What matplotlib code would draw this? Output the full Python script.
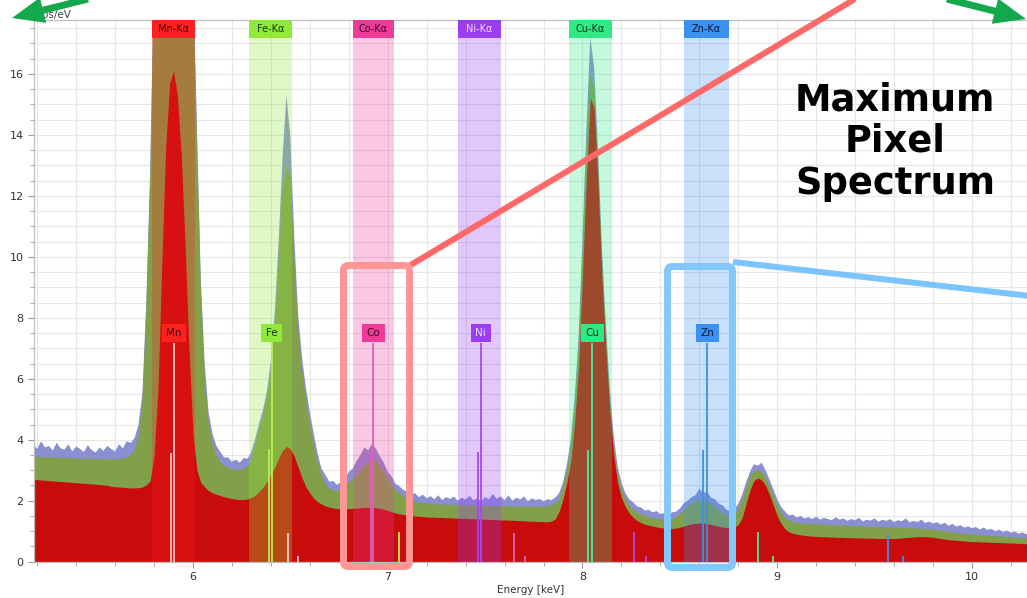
import numpy as np
import matplotlib
matplotlib.use('Agg')
import matplotlib.pyplot as plt
from matplotlib.patches import Rectangle, FancyBboxPatch, Polygon
from matplotlib.lines import Line2D
import matplotlib.transforms as mtransforms

# ---------------- data ----------------
# energy channels (keV), 0.02 keV step
energy = np.round(5.18 + 0.02 * np.arange(257), 2)

# maximum-pixel spectrum (noisy outline, cps/eV)
spec_max = [
    3.85, 3.70, 3.95, 3.75, 3.80, 3.65, 3.90, 3.72, 3.68, 3.85,
    3.62, 3.78, 3.70, 3.60, 3.82, 3.66, 3.58, 3.75, 3.64, 3.80,
    3.70, 3.62, 3.85, 3.72, 3.95, 3.90, 4.05, 4.50, 5.50, 8.50,
    12.8, 19.5, 22.0, 24.0, 25.0, 25.0, 25.0, 25.0, 24.0, 23.0,
    21.0, 19.5, 14.3, 9.30, 6.50, 4.90, 4.20, 3.80, 3.60, 3.42,
    3.42, 3.28, 3.35, 3.25, 3.40, 3.38, 3.62, 4.05, 4.55, 5.00,
    5.60, 6.60, 8.20, 10.5, 13.3, 15.3, 13.9, 10.7, 8.10, 6.70,
    5.70, 4.90, 4.20, 3.55, 3.05, 2.85, 2.62, 2.65, 2.52, 2.62,
    2.70, 2.95, 3.05, 3.30, 3.50, 3.75, 3.65, 3.87, 3.70, 3.45,
    3.25, 2.95, 2.80, 2.55, 2.48, 2.35, 2.30, 2.18, 2.25, 2.12,
    2.20, 2.08, 2.15, 2.05, 2.18, 2.02, 2.12, 2.06, 2.14, 2.00,
    2.10, 2.04, 2.16, 2.02, 2.08, 1.98, 2.12, 2.05, 2.22, 2.06,
    2.15, 2.02, 2.18, 2.00, 2.10, 2.04, 2.14, 1.98, 2.08, 2.02,
    2.06, 1.98, 2.05, 2.02, 2.10, 2.25, 2.60, 3.20, 4.00, 5.40,
    7.40, 10.6, 14.2, 17.2, 16.2, 13.5, 10.3, 7.80, 5.70, 4.15,
    3.15, 2.60, 2.25, 2.05, 1.95, 1.82, 1.78, 1.68, 1.70, 1.62,
    1.66, 1.56, 1.60, 1.52, 1.62, 1.64, 1.75, 1.92, 2.00, 2.12,
    2.18, 2.40, 2.25, 2.30, 2.10, 2.05, 1.90, 1.85, 1.70, 1.65,
    1.72, 1.90, 2.20, 2.60, 2.95, 3.20, 3.15, 3.25, 3.00, 2.70,
    2.38, 2.05, 1.80, 1.65, 1.52, 1.55, 1.45, 1.50, 1.42, 1.46,
    1.40, 1.48, 1.38, 1.44, 1.40, 1.36, 1.46, 1.38, 1.42, 1.34,
    1.40, 1.36, 1.44, 1.32, 1.38, 1.35, 1.42, 1.31, 1.38, 1.34,
    1.40, 1.30, 1.36, 1.33, 1.42, 1.29, 1.34, 1.30, 1.38, 1.27,
    1.32, 1.25, 1.30, 1.22, 1.28, 1.18, 1.24, 1.15, 1.20, 1.12,
    1.16, 1.10, 1.14, 1.06, 1.12, 1.04, 1.08, 1.00, 1.05, 0.98,
    1.02, 0.95, 0.99, 0.92, 0.96, 0.90, 0.93,
]

# sum spectrum (green)
spec_sum = [
    3.45, 3.44, 3.43, 3.43, 3.42, 3.42, 3.41, 3.41, 3.40, 3.40,
    3.39, 3.39, 3.38, 3.38, 3.37, 3.37, 3.37, 3.36, 3.36, 3.36,
    3.36, 3.36, 3.37, 3.38, 3.42, 3.50, 3.65, 4.10, 5.20, 8.20,
    12.5, 19.0, 22.0, 24.0, 25.0, 25.0, 25.0, 25.0, 24.0, 23.0,
    21.0, 19.0, 14.0, 9.00, 6.20, 4.60, 3.90, 3.50, 3.28, 3.15,
    3.07, 3.04, 3.02, 3.02, 3.05, 3.12, 3.35, 3.80, 4.30, 4.75,
    5.30, 6.20, 7.60, 9.80, 12.0, 13.0, 12.6, 10.0, 7.70, 6.30,
    5.40, 4.60, 3.90, 3.30, 2.85, 2.55, 2.40, 2.33, 2.30, 2.35,
    2.45, 2.58, 2.72, 2.86, 3.00, 3.14, 3.25, 3.32, 3.30, 3.15,
    2.95, 2.72, 2.52, 2.36, 2.24, 2.14, 2.07, 2.01, 1.97, 1.94,
    1.92, 1.91, 1.90, 1.89, 1.88, 1.88, 1.87, 1.87, 1.86, 1.86,
    1.85, 1.85, 1.85, 1.84, 1.84, 1.84, 1.83, 1.83, 1.83, 1.82,
    1.82, 1.82, 1.81, 1.81, 1.81, 1.80, 1.80, 1.80, 1.80, 1.80,
    1.80, 1.80, 1.81, 1.84, 1.90, 2.05, 2.40, 2.95, 3.75, 5.10,
    7.00, 10.1, 13.5, 15.9, 15.6, 13.0, 9.90, 7.50, 5.40, 3.90,
    2.95, 2.40, 2.05, 1.85, 1.72, 1.62, 1.55, 1.50, 1.46, 1.43,
    1.40, 1.38, 1.37, 1.37, 1.40, 1.45, 1.55, 1.68, 1.80, 1.90,
    1.98, 2.02, 2.02, 1.98, 1.90, 1.80, 1.70, 1.60, 1.52, 1.48,
    1.52, 1.70, 2.00, 2.40, 2.75, 2.95, 3.00, 2.95, 2.78, 2.50,
    2.18, 1.88, 1.62, 1.46, 1.36, 1.31, 1.28, 1.26, 1.25, 1.24,
    1.23, 1.22, 1.22, 1.21, 1.21, 1.20, 1.20, 1.19, 1.19, 1.18,
    1.18, 1.17, 1.17, 1.16, 1.16, 1.15, 1.15, 1.14, 1.14, 1.13,
    1.13, 1.12, 1.12, 1.11, 1.11, 1.10, 1.10, 1.09, 1.08, 1.07,
    1.06, 1.05, 1.04, 1.02, 1.00, 0.98, 0.96, 0.95, 0.93, 0.92,
    0.91, 0.90, 0.89, 0.88, 0.87, 0.86, 0.85, 0.84, 0.83, 0.82,
    0.81, 0.80, 0.79, 0.78, 0.78, 0.77, 0.77,
]

# fitted / deconvolved spectrum (red)
spec_fit = [
    2.70, 2.69, 2.68, 2.67, 2.66, 2.65, 2.64, 2.63, 2.62, 2.61,
    2.60, 2.59, 2.58, 2.57, 2.56, 2.55, 2.54, 2.53, 2.52, 2.51,
    2.47, 2.46, 2.45, 2.44, 2.43, 2.42, 2.42, 2.43, 2.45, 2.52,
    2.65, 3.50, 5.60, 9.80, 13.6, 15.7, 16.1, 15.3, 13.3, 10.3,
    6.90, 4.20, 3.00, 2.60, 2.45, 2.33, 2.26, 2.21, 2.17, 2.13,
    2.10, 2.07, 2.05, 2.04, 2.04, 2.06, 2.10, 2.18, 2.30, 2.45,
    2.62, 2.85, 3.10, 3.40, 3.65, 3.78, 3.70, 3.45, 3.10, 2.75,
    2.45, 2.25, 2.08, 1.97, 1.89, 1.83, 1.79, 1.76, 1.74, 1.73,
    1.73, 1.74, 1.75, 1.76, 1.77, 1.78, 1.78, 1.78, 1.77, 1.75,
    1.72, 1.68, 1.64, 1.60, 1.57, 1.55, 1.53, 1.52, 1.50, 1.49,
    1.48, 1.47, 1.46, 1.46, 1.45, 1.45, 1.44, 1.44, 1.43, 1.43,
    1.42, 1.42, 1.41, 1.41, 1.40, 1.40, 1.39, 1.39, 1.38, 1.38,
    1.37, 1.37, 1.36, 1.36, 1.35, 1.35, 1.34, 1.33, 1.33, 1.32,
    1.32, 1.31, 1.31, 1.33, 1.40, 1.65, 2.05, 2.60, 3.30, 4.60,
    6.40, 9.40, 12.6, 15.2, 14.9, 12.4, 9.30, 7.00, 5.00, 3.50,
    2.60, 2.10, 1.80, 1.60, 1.45, 1.35, 1.28, 1.23, 1.20, 1.17,
    1.14, 1.12, 1.10, 1.09, 1.09, 1.10, 1.13, 1.17, 1.21, 1.24,
    1.26, 1.27, 1.26, 1.25, 1.22, 1.19, 1.16, 1.13, 1.12, 1.12,
    1.14, 1.22, 1.45, 1.90, 2.35, 2.65, 2.75, 2.68, 2.50, 2.20,
    1.85, 1.50, 1.25, 1.08, 0.98, 0.93, 0.90, 0.88, 0.86, 0.85,
    0.84, 0.83, 0.82, 0.82, 0.81, 0.81, 0.80, 0.80, 0.80, 0.79,
    0.79, 0.78, 0.78, 0.78, 0.77, 0.77, 0.77, 0.76, 0.76, 0.76,
    0.76, 0.76, 0.77, 0.78, 0.79, 0.80, 0.81, 0.82, 0.82, 0.82,
    0.81, 0.80, 0.78, 0.76, 0.74, 0.72, 0.71, 0.70, 0.69, 0.68,
    0.67, 0.66, 0.66, 0.65, 0.65, 0.64, 0.64, 0.63, 0.63, 0.62,
    0.62, 0.61, 0.61, 0.60, 0.60, 0.59, 0.59,
]

# element identification
elements = ['Mn', 'Fe', 'Co', 'Ni', 'Cu', 'Zn']
band_lo = [5.79, 6.29, 6.82, 7.36, 7.93, 8.52]
band_hi = [6.01, 6.51, 7.03, 7.58, 8.15, 8.75]
ka1_energy = [5.902, 6.404, 6.926, 7.478, 8.050, 8.641]
ka2_energy = [5.889, 6.392, 6.915, 7.462, 8.027, 8.617]
ka2_height = [3.55, 3.70, 3.60, 3.60, 3.65, 3.65]
kb1_energy = [6.490, 7.060, 7.650, 8.263, 8.903, 9.570]
kb1_height = [0.94, 0.98, 0.95, 0.96, 0.96, 0.92]
kb3_energy = [6.538, 7.110, 7.705, 8.328, 8.980, 9.647]
kb3_height = [0.20, 0.20, 0.20, 0.20, 0.20, 0.19]

# ---------------- styles ----------------
W, H = 1027, 598
RED = '#c80c0c'
GREEN = '#82a04a'
BLUE = '#8a8fd2'
el_color = ['#ff2020', '#90e838', '#ee3a98', '#9a3cf0', '#30e884', '#3c90f0']
el_line = ['#ffc8c8', '#b4f050', '#dc60b4', '#a848f0', '#40f0a0', '#3f8fe0']
el_text = ['#3a0a0a', '#1a3a0a', '#3a0a20', '#eeddff', '#0a3a1a', '#0a1a3a']

fig = plt.figure(figsize=(W / 100, H / 100), dpi=100)
ax_left, ax_bottom, ax_top = 34, 36.3, 20
ax = fig.add_axes([ax_left / W, ax_bottom / H, (W - ax_left) / W,
                   (H - ax_bottom - ax_top) / H])

ax.fill_between(energy, 0, spec_max, color=BLUE, lw=0, zorder=2)
ax.fill_between(energy, 0, spec_sum, color=GREEN, lw=0, zorder=2.1)
ax.fill_between(energy, 0, spec_fit, color=RED, lw=0, zorder=2.2)

ax.set_xlim(5.1836, 10.2825)
ax.set_ylim(0, 17.77)
ax.set_xticks([6, 7, 8, 9, 10])
ax.set_xticks(np.arange(5.2, 10.3, 0.2), minor=True)
ax.set_yticks(np.arange(0, 17, 2))
ax.set_yticks(np.arange(0, 17.8, 0.5), minor=True)
ax.grid(which='both', color='#e6e6e6', lw=0.8, zorder=0)
ax.set_axisbelow(True)
for s in ['left', 'bottom', 'top']:
    ax.spines[s].set_color('#bdbdbd')
    ax.spines[s].set_linewidth(0.9)
ax.spines['right'].set_visible(False)
ax.tick_params(which='both', direction='out', color='#9a9a9a',
               labelsize=8, labelcolor='#333333', top=False)
ax.tick_params(which='major', length=4)
ax.tick_params(which='minor', length=3)
ax.set_xlabel('Energy [keV]', fontsize=7.5, color='#333333', labelpad=2)

blend = mtransforms.blended_transform_factory(ax.transData, ax.transAxes)
box_h = 18 / (H - ax_bottom - ax_top)
for i, el in enumerate(elements):
    ax.axvspan(band_lo[i], band_hi[i], color=el_color[i], alpha=0.28, lw=0, zorder=3)
    ax.add_patch(Rectangle((band_lo[i], 1 - box_h), band_hi[i] - band_lo[i], box_h,
                           transform=blend, fc=el_color[i], ec='none', zorder=6,
                           clip_on=False))
    ax.text((band_lo[i] + band_hi[i]) / 2, 1 - box_h / 2, el + '-K\u03b1',
            transform=blend, ha='center', va='center', fontsize=7,
            color=el_text[i], zorder=7)
    ax.vlines(ka1_energy[i], 0, 7.17, colors=el_line[i], lw=1.3, zorder=5)
    ax.vlines(ka2_energy[i], 0, ka2_height[i], colors=el_line[i], lw=1.3, zorder=5)
    ax.vlines(kb1_energy[i], 0, kb1_height[i], colors=el_line[i], lw=1.3, zorder=5)
    ax.vlines(kb3_energy[i], 0, kb3_height[i], colors=el_line[i], lw=1.3, zorder=5)
    ax.text(ka1_energy[i], 7.50, el, ha='center', va='center', fontsize=7.5,
            color=el_text[i], zorder=7,
            bbox=dict(boxstyle='square,pad=0.42', fc=el_color[i], ec='none'))

# ---------------- overlays (pixel coordinates, origin top-left) ----------------
ident = mtransforms.IdentityTransform()


def P(x, y):
    return (x, H - y)


def add_line(p0, p1, color, lw_px):
    (x0, y0), (x1, y1) = P(*p0), P(*p1)
    fig.add_artist(Line2D([x0, x1], [y0, y1], transform=ident, color=color,
                          lw=lw_px * 0.72, solid_capstyle='butt', zorder=10))


def add_rect(x0, y0, x1, y1, color, lw_px):
    bx, by = P(x0, y1)
    fig.add_artist(FancyBboxPatch((bx, by), x1 - x0, y1 - y0,
                                  boxstyle='round,pad=0,rounding_size=5',
                                  transform=ident, fill=False, ec=color,
                                  lw=lw_px * 0.72, zorder=10))


def add_arrow(tail, tip, color, shaft_px, head_len, head_half):
    t = np.array(tail, float)
    h = np.array(tip, float)
    u = (h - t) / np.linalg.norm(h - t)
    n = np.array([-u[1], u[0]])
    base = h - head_len * u
    add_line(tuple(t), tuple(base + 2 * u), color, shaft_px)
    pts = [P(*h), P(*(base + head_half * n)), P(*(base - head_half * n))]
    fig.add_artist(Polygon(pts, closed=True, transform=ident, fc=color, ec='none',
                           zorder=11))


add_line((409, 266), (860, -4), '#ff6868', 6)
add_rect(343.5, 265.5, 409.5, 566.5, '#ff9696', 7)
add_line((733, 262), (1030, 296), '#7cc4ff', 6)
add_rect(667.5, 266.5, 732.5, 567.5, '#82c8ff', 7)

fig.text(36 / W, 1 - 15 / H, 'cps/eV', ha='left', va='center', fontsize=7.5,
         color='#444444')

add_arrow((100, -4), (12, 18), '#13a84b', 7, 32, 13)
add_arrow((935, -4), (1026, 19), '#13a84b', 7, 32, 13)

fig.text(895 / W, 1 - 141.5 / H, 'Maximum\nPixel\nSpectrum', ha='center',
         va='center', fontsize=26.5, fontweight='bold', linespacing=1.17,
         multialignment='center', color='black', zorder=12)

fig.savefig('out.png', dpi=100)
